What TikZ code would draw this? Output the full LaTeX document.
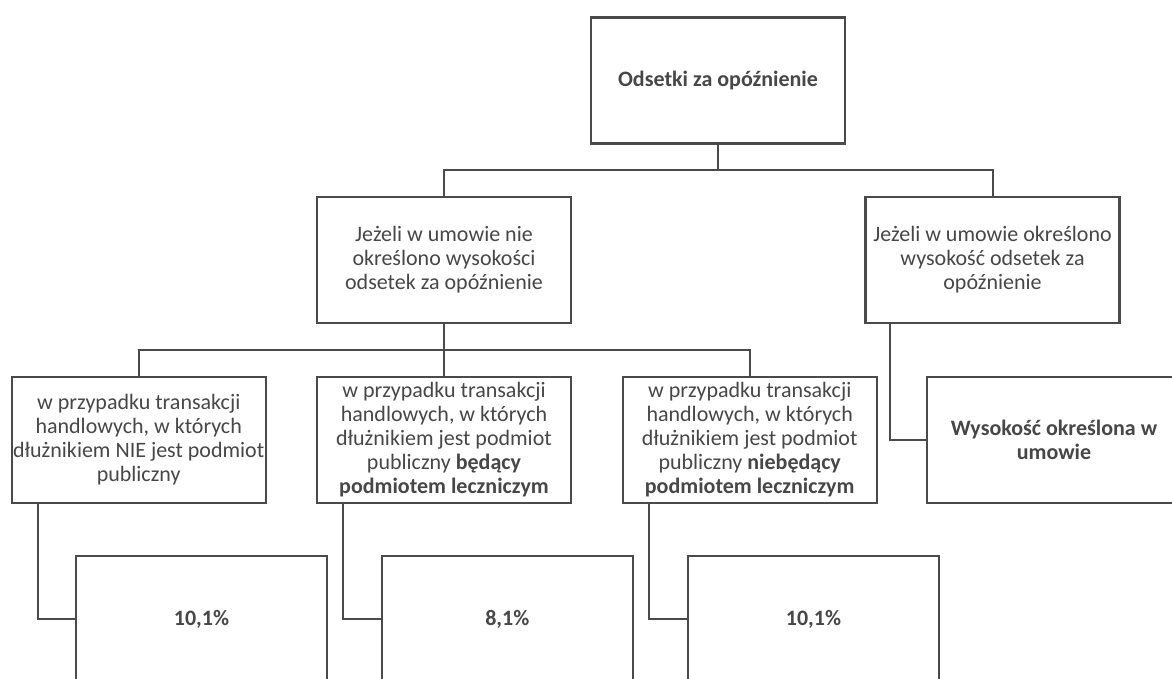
\documentclass[tikz,border=0pt]{standalone}
\usepackage{fontspec}
\setmainfont{Carlito}
\definecolor{linec}{HTML}{4A4A4A}
\definecolor{txtc}{HTML}{474747}
\begin{document}
\begin{tikzpicture}[x=1pt,y=-1pt,
  box/.style={draw=linec, line width=2.4pt, minimum width=254pt, minimum height=126pt,
    inner sep=0pt, align=center, text=txtc, font=\fontsize{22}{24}\selectfont, anchor=center},
  conn/.style={draw=linec, line width=2pt}]
\useasboundingbox (0,0) rectangle (1172,679);
\fill[white] (0,0) rectangle (1172,679);
\clip (0,0) rectangle (1172,679);
\node[box] (top) at (718,80.5) {\textbf{Odsetki za opóźnienie}};
\node[box] (l1) at (444,260) {Jeżeli w umowie nie\\określono wysokości\\odsetek za opóźnienie};
\node[box] (r1) at (992.5,260) {Jeżeli w umowie określono\\wysokość odsetek za\\opóźnienie};
\node[box] (b1) at (138.7,440) {w przypadku transakcji\\handlowych, w których\\dłużnikiem NIE jest podmiot\\publiczny};
\node[box] (b2) at (444,440) {w przypadku transakcji\\handlowych, w których\\dłużnikiem jest podmiot\\publiczny \textbf{będący}\\\textbf{podmiotem leczniczym}};
\node[box] (b3) at (749.7,440) {w przypadku transakcji\\handlowych, w których\\dłużnikiem jest podmiot\\publiczny \textbf{niebędący}\\\textbf{podmiotem leczniczym}};
\node[box] (w) at (1054,440) {\textbf{Wysokość określona w}\\\textbf{umowie}};
\node[box, minimum width=251pt] (p1) at (201.5,619) {\textbf{10,1\%}};
\node[box, minimum width=251pt] (p2) at (507.3,619) {\textbf{8,1\%}};
\node[box, minimum width=251pt] (p3) at (813.5,619) {\textbf{10,1\%}};
\coordinate (h1) at (718,170);
\coordinate (h2) at (444,350);
\draw[conn] (top.south) -- (h1);
\draw[conn] (l1.north) |- (h1) -| (r1.north);
\draw[conn] (l1.south) -- (h2);
\draw[conn] (b1.north) |- (h2) -| (b3.north);
\draw[conn] (b2.north) -- (h2);
\draw[conn] ([xshift=-102.5pt]r1.south) |- (w.west);
\draw[conn] ([xshift=-100.7pt]b1.south) |- (p1.west);
\draw[conn] ([xshift=-101pt]b2.south) |- (p2.west);
\draw[conn] ([xshift=-100.7pt]b3.south) |- (p3.west);
\end{tikzpicture}
\end{document}
